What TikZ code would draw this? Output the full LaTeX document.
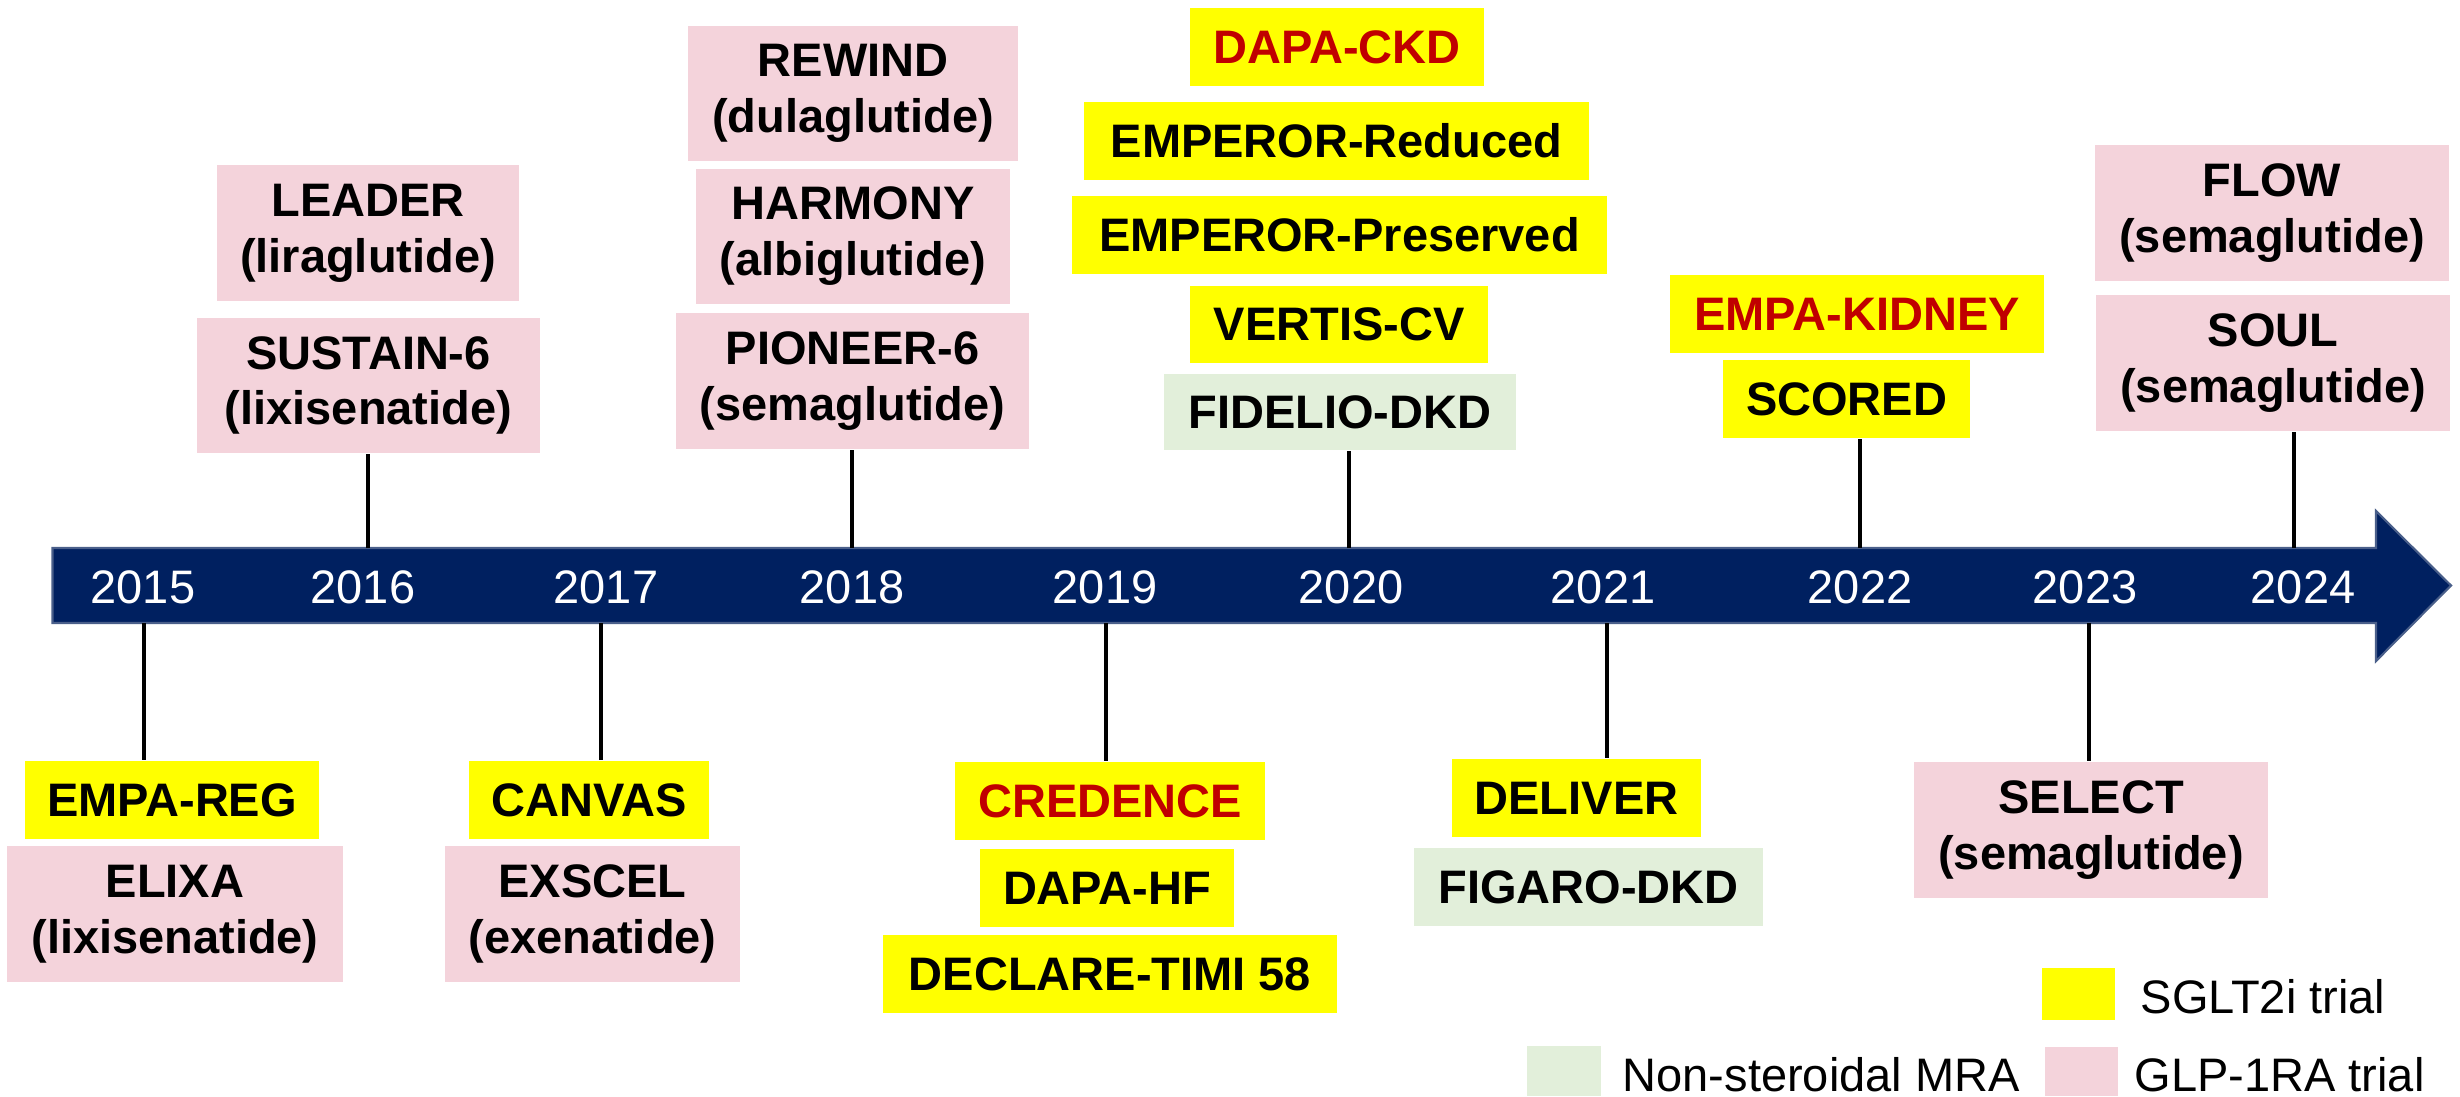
\documentclass[tikz,border=0pt]{standalone}
\usepackage{fontspec}
\setmainfont{Liberation Sans}
\definecolor{navy}{HTML}{002060}
\definecolor{barline}{HTML}{4A5F8A}
\definecolor{sgltY}{HTML}{FFFF00}
\definecolor{glpP}{HTML}{F4D3DB}
\definecolor{mraG}{HTML}{E2EFDA}
\definecolor{hlred}{HTML}{C00000}
\tikzset{
  trial/.style={inner sep=0pt, align=center, font=\fontsize{13.37pt}{15.9pt}\selectfont\bfseries},
  sglt/.style={trial, fill=sgltY},
  glp/.style={trial, fill=glpP},
  mra/.style={trial, fill=mraG},
  redtxt/.style={text=hlred},
  yearlbl/.style={text=white, inner sep=0pt, font=\fontsize{13.37pt}{15.9pt}\selectfont},
  legtxt/.style={inner sep=0pt, anchor=base west, font=\fontsize{13.37pt}{15.9pt}\selectfont},
  legsq/.style={inner sep=0pt},
  conn/.style={line width=1.3pt, black},
}
\newcommand\trialnode[7]{\node[#2, minimum width={(#5-#3)*0.01cm}, minimum height={(#6-#4)*0.01cm}] (#1) at ({(#3+#5)/200},{-(#4+#6)/200}) {#7};}
\begin{document}
\begin{tikzpicture}
\useasboundingbox (0,0) rectangle (24.6,-10.96);

% timeline bar
\fill[navy, draw=barline, line width=0.6pt] (0.525,-5.48) -- (23.76,-5.48) -- (23.76,-5.11) -- (24.51,-5.855) -- (23.76,-6.61) -- (23.76,-6.23) -- (0.525,-6.23) -- cycle;

% tick coordinates
\coordinate (t16) at (3.68,-5.48);
\coordinate (t18) at (8.52,-5.48);
\coordinate (t20) at (13.49,-5.48);
\coordinate (t22) at (18.60,-5.48);
\coordinate (t24) at (22.94,-5.48);
\coordinate (t15) at (1.44,-6.23);
\coordinate (t17) at (6.01,-6.23);
\coordinate (t19) at (11.06,-6.23);
\coordinate (t21) at (16.07,-6.23);
\coordinate (t23) at (20.89,-6.23);

% years
\node[yearlbl] (y2015) at (1.43,-5.87) {2015};
\node[yearlbl] (y2016) at (3.63,-5.87) {2016};
\node[yearlbl] (y2017) at (6.06,-5.87) {2017};
\node[yearlbl] (y2018) at (8.52,-5.87) {2018};
\node[yearlbl] (y2019) at (11.05,-5.87) {2019};
\node[yearlbl] (y2020) at (13.51,-5.87) {2020};
\node[yearlbl] (y2021) at (16.03,-5.87) {2021};
\node[yearlbl] (y2022) at (18.60,-5.87) {2022};
\node[yearlbl] (y2023) at (20.85,-5.87) {2023};
\node[yearlbl] (y2024) at (23.03,-5.87) {2024};

% top boxes
\trialnode{rewind}{glp}{688}{26}{1018}{161}{REWIND\\(dulaglutide)}
\trialnode{harmony}{glp}{696}{169}{1010}{304}{HARMONY\\(albiglutide)}
\trialnode{pioneer}{glp}{676}{313}{1029}{449}{PIONEER-6\\(semaglutide)}
\trialnode{leader}{glp}{217}{165}{519}{301}{LEADER\\(liraglutide)}
\trialnode{sustain}{glp}{197}{318}{540}{453}{SUSTAIN-6\\(lixisenatide)}
\trialnode{dapackd}{sglt,redtxt}{1190}{8}{1484}{86}{DAPA-CKD}
\trialnode{empred}{sglt}{1084}{102}{1589}{180}{EMPEROR-Reduced}
\trialnode{emppres}{sglt}{1072}{196}{1607}{274}{EMPEROR-Preserved}
\trialnode{vertis}{sglt}{1190}{286}{1488}{363}{VERTIS-CV}
\trialnode{fidelio}{mra}{1164}{374}{1516}{450}{FIDELIO-DKD}
\trialnode{empakid}{sglt,redtxt}{1670}{275}{2044}{353}{EMPA-KIDNEY}
\trialnode{scored}{sglt}{1723}{360}{1970}{438}{SCORED}
\trialnode{flow}{glp}{2095}{145}{2449}{281}{FLOW\\(semaglutide)}
\trialnode{soul}{glp}{2096}{295}{2450}{431}{SOUL\\(semaglutide)}

% bottom boxes
\trialnode{empareg}{sglt}{25}{761}{319}{839}{EMPA-REG}
\trialnode{elixa}{glp}{7}{846}{343}{982}{ELIXA\\(lixisenatide)}
\trialnode{canvas}{sglt}{469}{761}{709}{839}{CANVAS}
\trialnode{exscel}{glp}{445}{846}{740}{982}{EXSCEL\\(exenatide)}
\trialnode{credence}{sglt,redtxt}{955}{762}{1265}{840}{CREDENCE}
\trialnode{dapahf}{sglt}{980}{849}{1234}{927}{DAPA-HF}
\trialnode{declare}{sglt}{883}{935}{1337}{1013}{DECLARE-TIMI 58}
\trialnode{deliver}{sglt}{1452}{759}{1701}{837}{DELIVER}
\trialnode{figaro}{mra}{1414}{848}{1763}{926}{FIGARO-DKD}
\trialnode{select}{glp}{1914}{762}{2268}{898}{SELECT\\(semaglutide)}

% connectors
\draw[conn] (t16) -- (t16 |- sustain.south);
\draw[conn] (t18) -- (t18 |- pioneer.south);
\draw[conn] (t20) -- (t20 |- fidelio.south);
\draw[conn] (t22) -- (t22 |- scored.south);
\draw[conn] (t24) -- (t24 |- soul.south);
\draw[conn] (t15) -- (t15 |- empareg.north);
\draw[conn] (t17) -- (t17 |- canvas.north);
\draw[conn] (t19) -- (t19 |- credence.north);
\draw[conn] (t21) -- (t21 |- deliver.north);
\draw[conn] (t23) -- (t23 |- select.north);

% legend
\node[legsq, fill=sgltY, minimum width=0.73cm, minimum height=0.52cm] (lsq1) at (20.785,-9.94) {};
\node[legtxt] (ltx1) at (21.40,-10.13) {SGLT2i trial};
\node[legsq, fill=mraG, minimum width=0.74cm, minimum height=0.50cm] (lsq2) at (15.64,-10.71) {};
\node[legtxt] (ltx2) at (16.22,-10.91) {Non-steroidal MRA};
\node[legsq, fill=glpP, minimum width=0.73cm, minimum height=0.49cm] (lsq3) at (20.815,-10.715) {};
\node[legtxt] (ltx3) at (21.34,-10.91) {GLP-1RA trial};
\end{tikzpicture}
\end{document}
